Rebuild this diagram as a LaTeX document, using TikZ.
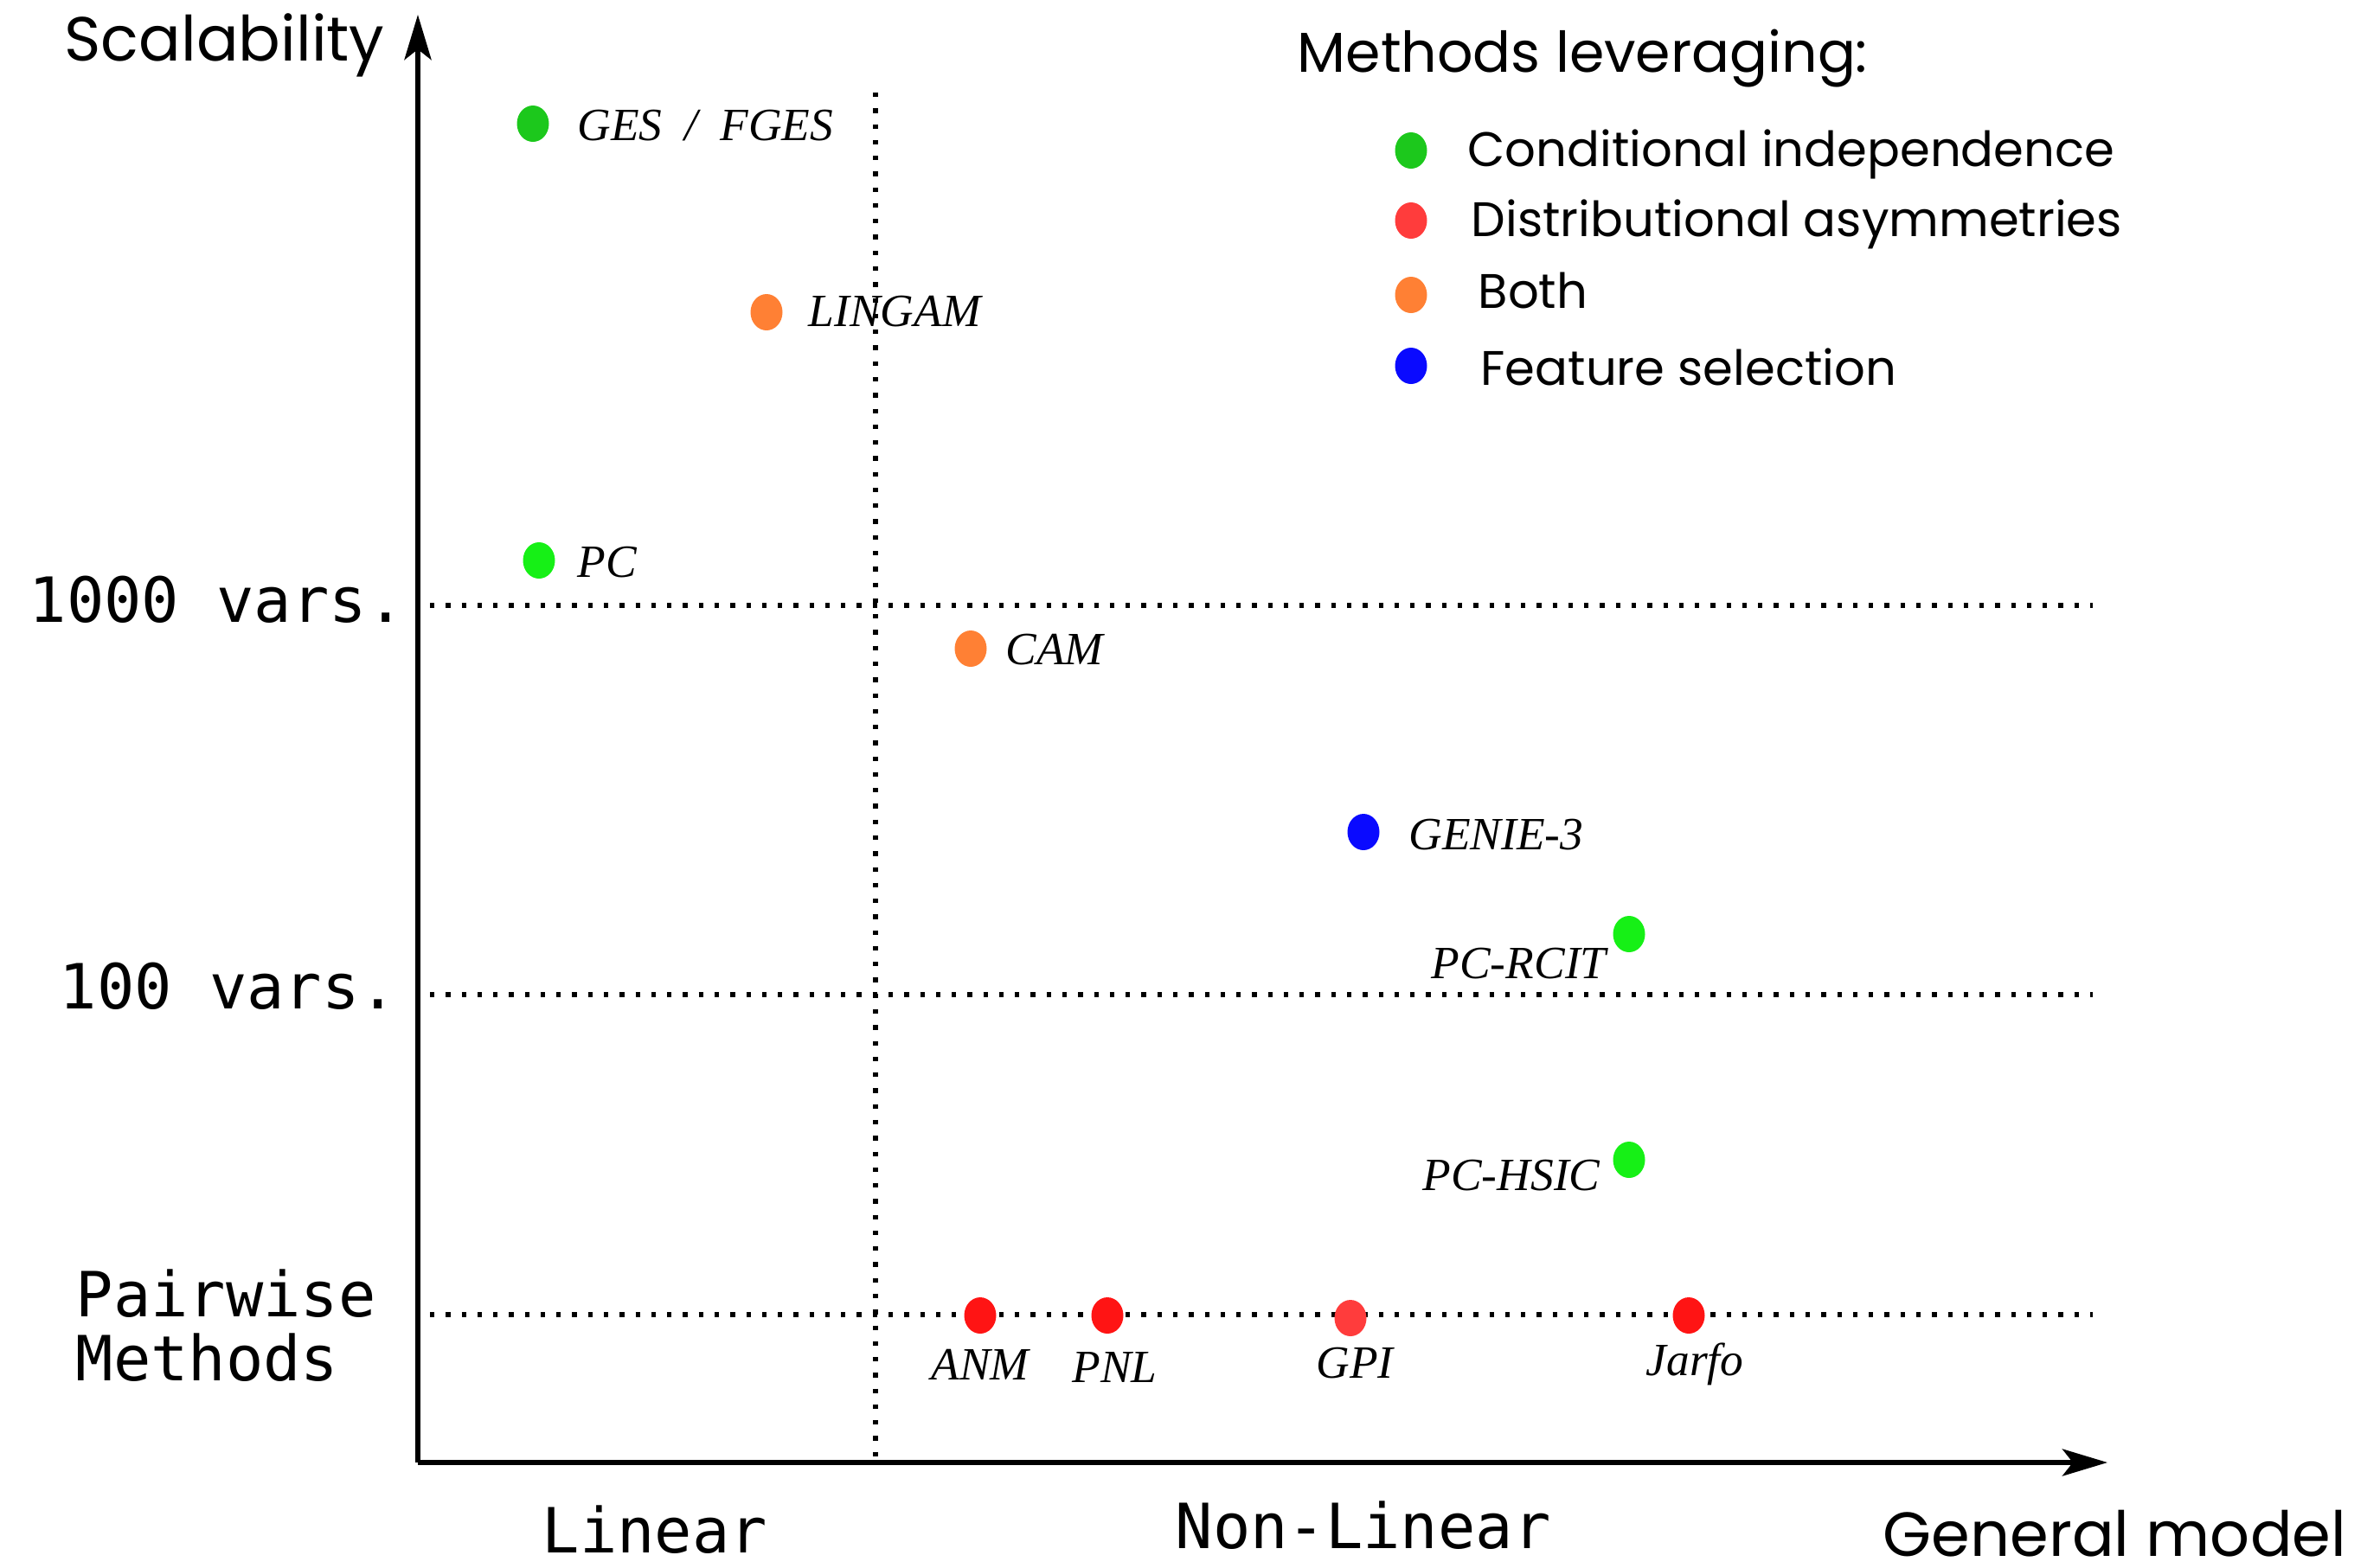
\documentclass[tikz,border=0pt]{standalone}
\usepackage{fontspec}
\setmainfont{Liberation Serif}
\setsansfont{Poppins}
\setmonofont{DejaVu Sans Mono}
\usetikzlibrary{arrows.meta,shapes.geometric}

\definecolor{ciGreen}{RGB}{28,200,28}
\definecolor{ciBright}{RGB}{22,240,22}
\definecolor{daRed}{RGB}{255,20,20}
\definecolor{daLight}{RGB}{255,60,60}
\definecolor{bothOrange}{RGB}{255,128,52}
\definecolor{fsBlue}{RGB}{10,10,255}

\tikzset{
  axis/.style={line width=1.7pt, -{Stealth[length=0.52cm, width=0.31cm, inset=0.12cm]}},
  grid/.style={line width=1.6pt, dash pattern=on 1.5pt off 3.7pt},
  pt/.style={ellipse, minimum width=0.37cm, minimum height=0.42cm, inner sep=0pt, fill=#1},
  lab/.style={anchor=base west, inner sep=0pt, font=\fontsize{15.2}{18}\selectfont\itshape},
  tick/.style={anchor=base west, inner sep=0pt, font=\fontsize{20.5}{24}\selectfont\ttfamily},
  head/.style={anchor=base west, inner sep=0pt, font=\fontsize{20.5}{24}\selectfont\sffamily},
  key/.style={anchor=base west, inner sep=0pt, font=\fontsize{15.95}{19}\selectfont\sffamily}
}

\begin{document}
\begin{tikzpicture}
\useasboundingbox (0,0) rectangle (27.36,-18.12);

% axes and grid lines
\coordinate (origin) at (4.83,-16.91);
\coordinate (ytip) at (4.83,-0.17);
\coordinate (xtip) at (24.36,-16.91);
\coordinate (vtop) at (10.12,-1.07);
\coordinate (vbot) at (10.12,-16.91);
\coordinate (g1l) at (4.97,-7.00);  \coordinate (g1r) at (24.19,-7.00);
\coordinate (g2l) at (4.97,-11.50); \coordinate (g2r) at (24.19,-11.50);
\coordinate (g3l) at (4.97,-15.20); \coordinate (g3r) at (24.19,-15.20);

\draw[grid] (vtop) -- (vbot);
\draw[grid] (g1l) -- (g1r);
\draw[grid] (g2l) -- (g2r);
\draw[grid] (g3l) -- (g3r);
\draw[axis] (origin) -- (ytip);
\draw[axis] (origin) -- (xtip);

% axis titles and tick labels
\node[head] (ylab) at (0.74,-0.70) {Scalability};
\node[head] (xlab) at (21.76,-17.99) {General model};
\node[tick] (t1000) at (0.33,-7.19) {1000 vars.};
\node[tick] (t100) at (0.68,-11.66) {100 vars.};
\node[tick] (tpair) at (0.87,-15.22) {Pairwise};
\node[tick] (tmeth) at (0.87,-15.96) {Methods};
\node[tick] (tlin) at (6.26,-17.95) {Linear};
\node[tick] (tnon) at (13.58,-17.90) {Non-Linear};

% methods
\node[pt=ciGreen] (ges) at (6.16,-1.43) {};
\node[lab] (gesl) at (6.67,-1.62) {GES\hspace{0.26cm}/\hspace{0.26cm}FGES};
\node[pt=bothOrange] (lingam) at (8.86,-3.61) {};
\node[lab] (lingaml) at (9.34,-3.77) {LINGAM};
\node[pt=ciBright] (pc) at (6.23,-6.48) {};
\node[lab] (pcl) at (6.67,-6.67) {PC};
\node[pt=bothOrange] (cam) at (11.22,-7.50) {};
\node[lab] (caml) at (11.62,-7.68) {CAM};
\node[pt=fsBlue] (genie) at (15.76,-9.62) {};
\node[lab] (geniel) at (16.28,-9.82) {GENIE-3};
\node[pt=ciBright] (rcit) at (18.83,-10.80) {};
\node[lab] (rcitl) at (16.54,-11.31) {PC-RCIT};
\node[pt=ciBright] (hsic) at (18.83,-13.41) {};
\node[lab] (hsicl) at (16.44,-13.76) {PC-HSIC};
\node[pt=daRed] (anm) at (11.33,-15.21) {};
\node[lab] (anml) at (10.76,-15.95) {ANM};
\node[pt=daRed] (pnl) at (12.80,-15.21) {};
\node[lab] (pnll) at (12.39,-15.98) {PNL};
\node[pt=daLight] (gpi) at (15.61,-15.24) {};
\node[lab] (gpil) at (15.21,-15.93) {GPI};
\node[pt=daRed] (jarfo) at (19.52,-15.21) {};
\node[lab] (jarfol) at (19.02,-15.90) {Jarfo};

% legend
\node[head, font=\fontsize{18.5}{22}\selectfont\sffamily] (ltitle) at (14.99,-0.83) {Methods leveraging:};
\node[pt=ciGreen] (k1) at (16.31,-1.74) {};
\node[key] (k1l) at (16.96,-1.92) {Conditional independence};
\node[pt=daLight] (k2) at (16.31,-2.55) {};
\node[key] (k2l) at (17.00,-2.73) {Distributional asymmetries};
\node[pt=bothOrange] (k3) at (16.31,-3.41) {};
\node[key] (k3l) at (17.08,-3.56) {Both};
\node[pt=fsBlue] (k4) at (16.31,-4.23) {};
\node[key] (k4l) at (17.11,-4.45) {Feature selection};
\end{tikzpicture}
\end{document}
